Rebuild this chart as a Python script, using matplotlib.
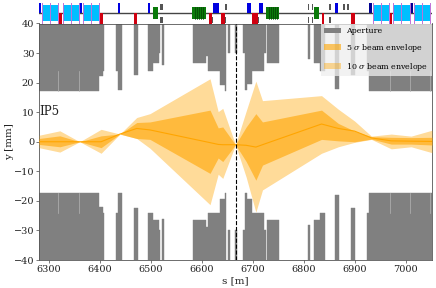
import matplotlib
matplotlib.use('Agg')
import matplotlib.pyplot as plt
from matplotlib.patches import Patch

plt.rcParams['font.family'] = ['DejaVu Serif']
plt.rcParams['mathtext.fontset'] = 'dejavuserif'

# aperture: segment start, end and half-height
ap_start = [6280, 6398, 6406, 6432, 6435, 6466.6, 6495, 6503, 6515, 6522, 6583, 6608, 6612, 6636.3, 6644.8,
            6651.3, 6665.8, 6680.8, 6685.4, 6689.3, 6699.2, 6722, 6727.3,
            6808.5, 6820, 6831.5, 6861, 6893, 6924.5, 6927.7]
ap_end = [6398, 6406, 6408, 6435, 6442.5, 6474, 6503, 6515, 6517, 6526, 6608, 6612, 6636.3, 6644.8, 6648,
          6654.6, 6669.7, 6685.4, 6689.3, 6699.2, 6722, 6726.7, 6752.2,
          6813, 6831.5, 6841.3, 6868.8, 6901, 6927.7, 7052]
ap_half = [17.3, 22.2, 24, 24, 17.5, 22.5, 24, 26.5, 30, 26, 26.5, 29, 24, 19.2, 17.2,
           30, 30, 30, 17.5, 19.5, 24, 30, 26.5,
           28, 26.5, 24, 18, 22.5, 24, 17.3]
notch_s = [6317, 6358, 6969, 7008, 7049]
notch_from = 17.3
notch_to = 24

# beam envelope
env_s = [6280, 6321, 6360, 6402, 6439, 6472, 6498, 6616, 6632, 6641, 6666, 6687, 6706, 6719,
         6835, 6868, 6900, 6933, 6972, 7011, 7052]
up10 = [2.2, 3.7, 0.0, 4.2, 2.6, 8.2, 9.5, 21.3, 10.2, 11.3, -1.0, 10.4, 20.5, 13.9,
        15.6, 11.0, 7.0, 1.9, 2.6, 1.9, 3.9]
up5 = [1.1, 2.0, 0.0, 2.0, 2.6, 6.5, 6.7, 10.7, 4.7, 5.0, -1.0, 5.0, 9.5, 6.7,
       10.7, 6.2, 3.6, 1.7, 1.5, 1.4, 1.5]
center = [0.0, 0.0, 0.0, 0.0, 2.6, 4.5, 4.0, -0.3, -0.9, -1.0, -1.0, -1.2, -1.8, -1.0,
          6.0, 4.5, 3.6, 1.3, 0.3, 0.2, 0.1]
low5 = [-0.9, -1.7, 0.0, -2.0, 2.6, 1.1, 0.8, -10.7, -5.5, -6.7, -1.0, -6.7, -13.0, -7.9,
        0.8, 0.3, 0.0, 0.9, -0.8, -0.8, -1.1]
low10 = [-2.0, -3.5, 0.0, -3.9, 2.6, 1.1, -2.2, -21.3, -11.0, -12.4, -1.0, -12.0, -23.8, -16.3,
         -3.9, -1.7, -0.2, 0.8, -2.4, -1.7, -3.7]
ip_s = 6666.4

# lattice elements (start, end)
blue = [(6280, 6284), (6358, 6364.5), (6434.6, 6440), (6495, 6499), (6621, 6627), (6628, 6634),
        (6689, 6696.5), (6713, 6720.6), (6861.6, 6866.8)]
navy = [(6927.7, 6934), (7009, 7015)]
red = [(6318, 6325), (6398, 6406), (6466.6, 6473), (6614, 6620), (6637, 6644.8), (6699, 6710),
       (6836, 6839), (6893, 6900), (6969, 6974)]
cyan = [(6286, 6317), (6326.5, 6358), (6366, 6397), (6936, 6968), (6976, 7008), (7016, 7048)]
green = [(6504, 6513), (6581, 6608), (6726, 6752), (6820, 6830)]
green_stripes = [6586, 6590, 6594, 6598, 6602, 6731, 6735, 6739, 6743, 6747]
ticks_up = [(6517.6, 6523), (6645, 6648.6), (6809, 6811), (6816, 6818), (6850.4, 6853),
            (6878, 6882), (6884.5, 6889.7)]
ticks_low = [(6518, 6523), (6620, 6622), (6645, 6648), (6710, 6713), (6809, 6811), (6816, 6818), (6850.4, 6853)]

W, H = 436, 288
fig = plt.figure(figsize=(W / 100, H / 100), dpi=100)
ax = fig.add_axes([39 / W, (H - 260) / H, (432 - 39) / W, (260 - 23.5) / H])
top = fig.add_axes([39 / W, (H - 23.5) / H, (432 - 39) / W, 20.5 / H], sharex=ax)

for s0, s1, h in zip(ap_start, ap_end, ap_half):
    ax.bar(s0, 40 - h, width=s1 - s0, bottom=h, align='edge', color='gray', lw=0.3, edgecolor='gray')
    ax.bar(s0, 40 - h, width=s1 - s0, bottom=-40, align='edge', color='gray', lw=0.3, edgecolor='gray')
for sx in notch_s:
    ax.plot([sx, sx], [notch_from, notch_to], color='#b4b4b4', lw=0.5)
    ax.plot([sx, sx], [-notch_from, -notch_to], color='#b4b4b4', lw=0.5)

ax.fill_between(env_s, low10, up10, color='orange', alpha=0.4, lw=0, zorder=3)
ax.fill_between(env_s, low5, up5, color='orange', alpha=0.6, lw=0, zorder=3)
ax.plot(env_s, center, color='orange', lw=0.8, zorder=3)
ax.axvline(ip_s, color='black', ls='--', lw=0.8, zorder=3)

ax.set_xlim(6280, 7052)
ax.set_ylim(-40, 40)
ax.set_xticks([6300, 6400, 6500, 6600, 6700, 6800, 6900, 7000])
ax.set_yticks([-40, -30, -20, -10, 0, 10, 20, 30, 40])
ax.tick_params(labelsize=7, length=2, width=0.5, pad=1.5, color='#444444', labelcolor='#222222')
ax.set_xlabel('s [m]', fontsize=7.5, labelpad=1.5, color='#222222')
ax.set_ylabel('y [mm]', fontsize=7.5, labelpad=0, color='#222222')
for sp in ax.spines.values():
    sp.set_linewidth(0.6)
    sp.set_color('#555555')
ax.text(6281, 10.4, 'IP5', fontsize=8.5, va='center', ha='left', color='#222222', zorder=5)

handles = [Patch(color='gray', lw=0, label='Aperture'),
           Patch(color='orange', alpha=0.6, lw=0, label=r'5 $\sigma$ beam envelope'),
           Patch(color='orange', alpha=0.4, lw=0, label=r'10 $\sigma$ beam envelope')]
leg = ax.legend(handles=handles, loc='upper right', fontsize=5.7, borderaxespad=0, borderpad=0.45,
                labelspacing=0.85, handlelength=2.1, handletextpad=0.7, fancybox=False, framealpha=0.75,
                edgecolor='none', facecolor='#eeeeee')
leg.set_zorder(6)

top.set_ylim(-1, 1)
top.axis('off')
top.axhline(0, color='#444444', lw=1, zorder=1)
for s0, s1 in cyan:
    top.bar(s0, 1.6, width=s1 - s0, bottom=-0.8, align='edge', color='#00bfff', lw=0, zorder=2)
    for sx in (s0, (s0 + s1) / 2, s1):
        top.plot([sx, sx], [-1, 1], color='#c070d8', lw=0.7, zorder=3)
for s0, s1 in green:
    top.bar(s0, 1.15, width=s1 - s0, bottom=-0.55, align='edge', color='#0a7a0a', lw=0, zorder=2)
for sx in green_stripes:
    top.plot([sx, sx], [-0.55, 0.6], color='#054005', lw=0.5, zorder=3)
for s0, s1 in blue:
    top.bar(s0, 0.98, width=s1 - s0, bottom=0, align='edge', color='#0000e0', lw=0, zorder=2)
for s0, s1 in navy:
    top.bar(s0, 0.98, width=s1 - s0, bottom=0, align='edge', color='#000090', lw=0, zorder=2)
for s0, s1 in red:
    top.bar(s0, 0.98, width=s1 - s0, bottom=-1, align='edge', color='#d00010', lw=0, zorder=2)
for s0, s1 in ticks_up:
    top.bar(s0, 0.6, width=s1 - s0, bottom=0.35, align='edge', color='#555555', lw=0, zorder=2)
for s0, s1 in ticks_low:
    top.bar(s0, 0.6, width=s1 - s0, bottom=-0.95, align='edge', color='#555555', lw=0, zorder=2)

plt.setp(top.get_xticklabels(), visible=False)
fig.savefig('out.png', dpi=100)
